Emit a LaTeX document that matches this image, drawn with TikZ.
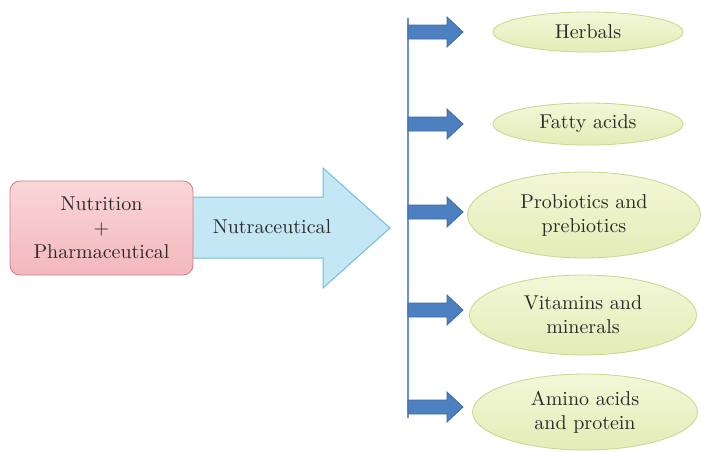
\documentclass[tikz,border=0pt]{standalone}
\usetikzlibrary{shapes.geometric,calc}

\definecolor{boxtop}{HTML}{FAD6D9}
\definecolor{boxbot}{HTML}{F3B8BD}
\definecolor{boxline}{HTML}{CF7E84}
\definecolor{bigfill}{HTML}{C4E7F6}
\definecolor{bigline}{HTML}{72BEDD}
\definecolor{stemblue}{HTML}{6A94C8}
\definecolor{tipfill}{HTML}{4D80C0}
\definecolor{tipline}{HTML}{3C6AA3}
\definecolor{leaftop}{HTML}{F3F7D8}
\definecolor{leafbot}{HTML}{E4ECB6}
\definecolor{leafline}{HTML}{C6D68A}
\definecolor{ink}{HTML}{2A2A2A}

\tikzset{
  srcbox/.style={draw=boxline, rounded corners=5pt, top color=boxtop, bottom color=boxbot,
    minimum width=91.5pt, minimum height=47pt, align=center, inner sep=2pt, text=ink},
  leaf/.style={ellipse, draw=leafline, top color=leaftop, bottom color=leafbot,
    align=center, inner sep=0pt, text=ink},
  tip/.style={fill=tipfill, draw=tipline, line width=0.4pt},
}

\begin{document}
\begin{tikzpicture}[x=0.5pt,y=-0.5pt]
\useasboundingbox (0,0) rectangle (701,451);
% big arrow behind the box
\draw[draw=bigline, fill=bigfill, line width=0.5pt]
  (188,197) -- (323,197) -- (323,168) -- (390,228) -- (323,288) -- (323,258) -- (188,258) -- cycle;
\node[srcbox] (mix) at (101.5,228) {Nutrition\\+\\Pharmaceutical};
\node[text=ink] (nutra) at (272,227) {Nutraceutical};

% stem
\coordinate (stemtop) at (408,18);
\coordinate (stembot) at (408,418);
\draw[stemblue, line width=0.8pt] (stemtop) -- (stembot);

% categories
\node[leaf, minimum width=95pt, minimum height=20pt] (herb) at (588,32) {Herbals};
\node[leaf, minimum width=95pt, minimum height=21pt] (fatty) at (588,124) {Fatty acids};
\node[leaf, minimum width=116.5pt, minimum height=43pt] (probio) at (584,215) {Probiotics and\\prebiotics};
\node[leaf, minimum width=113.5pt, minimum height=40pt] (vita) at (583,315) {Vitamins and\\minerals};
\node[leaf, minimum width=112.5pt, minimum height=38pt] (amino) at (585,412) {Amino acids\\and protein};

% small arrows off the stem
\foreach \y in {32,124,212,310,407}
  \draw[tip] (408,\y-7) -- (447,\y-7) -- (447,\y-15) -- (463,\y)
    -- (447,\y+15) -- (447,\y+7) -- (408,\y+7) -- cycle;
\end{tikzpicture}
\end{document}
